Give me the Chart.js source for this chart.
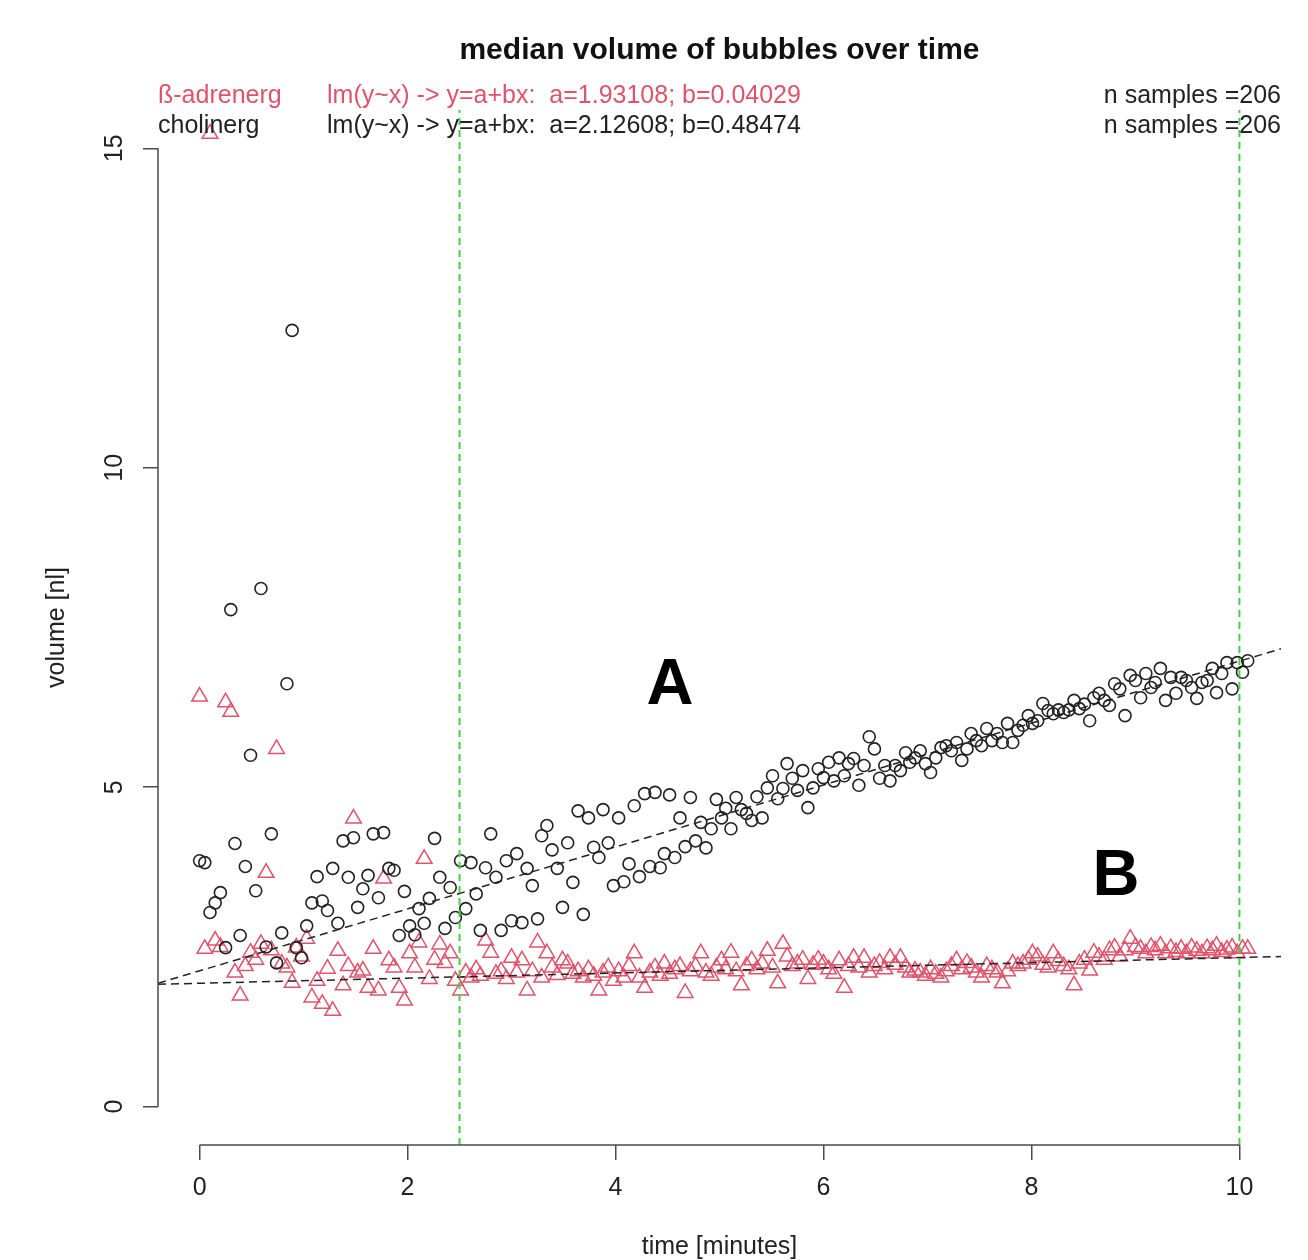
<!DOCTYPE html>
<html>
<head>
<meta charset="utf-8">
<title>median volume of bubbles over time</title>
<script src="https://cdn.jsdelivr.net/npm/chart.js@4.4.1/dist/chart.umd.min.js"></script>
<style>
  html, body { margin: 0; padding: 0; background: #ffffff; }
  #wrap { width: 1308px; height: 1260px; }
</style>
</head>
<body>
<div id="wrap"><canvas id="chart" width="1308" height="1260"></canvas></div>
<script>
// sample times (minutes)
const timeMin = [
  0.00, 0.05, 0.10, 0.15, 0.20, 0.25, 0.30, 0.34, 0.39, 0.44,
  0.49, 0.54, 0.59, 0.64, 0.69, 0.74, 0.79, 0.84, 0.89, 0.93,
  0.98, 1.03, 1.08, 1.13, 1.18, 1.23, 1.28, 1.33, 1.38, 1.43,
  1.48, 1.52, 1.57, 1.62, 1.67, 1.72, 1.77, 1.82, 1.87, 1.92,
  1.97, 2.02, 2.07, 2.11, 2.16, 2.21, 2.26, 2.31, 2.36, 2.41,
  2.46, 2.51, 2.56, 2.61, 2.66, 2.70, 2.75, 2.80, 2.85, 2.90,
  2.95, 3.00, 3.05, 3.10, 3.15, 3.20, 3.25, 3.29, 3.34, 3.39,
  3.44, 3.49, 3.54, 3.59, 3.64, 3.69, 3.74, 3.79, 3.84, 3.88,
  3.93, 3.98, 4.03, 4.08, 4.13, 4.18, 4.23, 4.28, 4.33, 4.38,
  4.43, 4.47, 4.52, 4.57, 4.62, 4.67, 4.72, 4.77, 4.82, 4.87,
  4.92, 4.97, 5.02, 5.06, 5.11, 5.16, 5.21, 5.26, 5.31, 5.36,
  5.41, 5.46, 5.51, 5.56, 5.61, 5.65, 5.70, 5.75, 5.80, 5.85,
  5.90, 5.95, 6.00, 6.05, 6.10, 6.15, 6.20, 6.24, 6.29, 6.34,
  6.39, 6.44, 6.49, 6.54, 6.59, 6.64, 6.69, 6.74, 6.79, 6.83,
  6.88, 6.93, 6.98, 7.03, 7.08, 7.13, 7.18, 7.23, 7.28, 7.33,
  7.38, 7.42, 7.47, 7.52, 7.57, 7.62, 7.67, 7.72, 7.77, 7.82,
  7.87, 7.92, 7.97, 8.01, 8.06, 8.11, 8.16, 8.21, 8.26, 8.31,
  8.36, 8.41, 8.46, 8.51, 8.56, 8.60, 8.65, 8.70, 8.75, 8.80,
  8.85, 8.90, 8.95, 9.00, 9.05, 9.10, 9.15, 9.19, 9.24, 9.29,
  9.34, 9.39, 9.44, 9.49, 9.54, 9.59, 9.64, 9.69, 9.74, 9.78,
  9.83, 9.88, 9.93, 9.98, 10.03, 10.08
];

// median bubble volume [nl], cholinergic stimulation
const cholinerg = [
  3.85, 3.82, 3.04, 3.19, 3.35, 2.49, 7.78, 4.12, 2.68, 3.76,
  5.50, 3.38, 8.11, 2.50, 4.27, 2.25, 2.72, 6.62, 12.15, 2.49,
  2.33, 2.83, 3.19, 3.60, 3.22, 3.07, 3.73, 2.87, 4.16, 3.59,
  4.21, 3.12, 3.41, 3.62, 4.27, 3.27, 4.29, 3.73, 3.70, 2.68,
  3.37, 2.83, 2.69, 3.10, 2.87, 3.26, 4.20, 3.59, 2.79, 3.43,
  2.96, 3.85, 3.10, 3.82, 3.33, 2.76, 3.74, 4.27, 3.59, 2.76,
  3.85, 2.91, 3.96, 2.88, 3.73, 3.46, 2.94, 4.24, 4.40, 4.02,
  3.73, 3.12, 4.13, 3.51, 4.63, 3.01, 4.52, 4.06, 3.90, 4.65,
  4.13, 3.46, 4.52, 3.52, 3.80, 4.71, 3.60, 4.90, 3.76, 4.92,
  3.74, 3.96, 4.88, 3.90, 4.52, 4.07, 4.84, 4.16, 4.45, 4.05,
  4.35, 4.81, 4.52, 4.67, 4.35, 4.84, 4.65, 4.59, 4.48, 4.85,
  4.52, 4.99, 5.18, 4.82, 4.98, 5.37, 5.14, 4.95, 5.26, 4.68,
  4.99, 5.29, 5.15, 5.39, 5.10, 5.46, 5.18, 5.37, 5.45, 5.03,
  5.34, 5.79, 5.60, 5.14, 5.34, 5.10, 5.34, 5.26, 5.54, 5.39,
  5.46, 5.57, 5.37, 5.23, 5.46, 5.62, 5.65, 5.57, 5.70, 5.42,
  5.60, 5.84, 5.73, 5.65, 5.92, 5.73, 5.84, 5.70, 6.00, 5.70,
  5.89, 5.97, 6.12, 6.00, 6.04, 6.31, 6.20, 6.15, 6.21, 6.17,
  6.21, 6.36, 6.23, 6.30, 6.04, 6.40, 6.47, 6.36, 6.28, 6.62,
  6.54, 6.12, 6.75, 6.67, 6.40, 6.78, 6.56, 6.64, 6.86, 6.36,
  6.72, 6.47, 6.72, 6.67, 6.56, 6.39, 6.64, 6.67, 6.86, 6.48,
  6.78, 6.95, 6.54, 6.95, 6.80, 6.98
];

// median bubble volume [nl], beta-adrenergic stimulation
const adrenerg = [
  6.42, 2.47, 15.23, 2.60, 2.50, 6.33, 6.18, 2.10, 1.74, 2.20,
  2.41, 2.30, 2.55, 3.66, 2.45, 5.60, 2.24, 2.18, 1.94, 2.49,
  2.35, 2.63, 1.71, 1.97, 1.61, 2.16, 1.50, 2.44, 1.90, 2.20,
  4.51, 2.10, 2.13, 1.86, 2.47, 1.82, 3.57, 2.29, 2.18, 1.86,
  1.66, 2.40, 2.18, 2.57, 3.88, 2.00, 2.30, 2.54, 2.25, 2.40,
  1.97, 1.82, 2.10, 2.02, 2.15, 2.05, 2.60, 2.41, 2.08, 2.12,
  2.00, 2.33, 2.10, 2.29, 1.82, 2.12, 2.57, 2.02, 2.40, 2.18,
  2.06, 2.29, 2.24, 2.08, 2.12, 2.02, 2.15, 2.05, 1.82, 2.10,
  2.18, 1.97, 2.12, 2.02, 2.20, 2.40, 2.02, 1.86, 2.10, 2.18,
  2.05, 2.24, 2.08, 2.15, 2.20, 1.78, 2.12, 2.20, 2.40, 2.10,
  2.05, 2.18, 2.29, 2.15, 2.41, 2.12, 1.90, 2.20, 2.29, 2.15,
  2.24, 2.44, 2.18, 1.93, 2.55, 2.35, 2.20, 2.24, 2.30, 2.00,
  2.22, 2.30, 2.24, 2.15, 2.08, 2.29, 1.86, 2.20, 2.33, 2.18,
  2.33, 2.10, 2.20, 2.25, 2.15, 2.33, 2.22, 2.33, 2.18, 2.10,
  2.13, 2.10, 2.05, 2.15, 2.08, 2.02, 2.12, 2.20, 2.29, 2.15,
  2.25, 2.18, 2.10, 2.02, 2.20, 2.15, 2.10, 1.93, 2.12, 2.24,
  2.20, 2.24, 2.30, 2.40, 2.35, 2.22, 2.18, 2.40, 2.28, 2.20,
  2.15, 1.90, 2.24, 2.30, 2.13, 2.41, 2.35, 2.30, 2.45, 2.49,
  2.35, 2.45, 2.63, 2.50, 2.47, 2.40, 2.50, 2.45, 2.52, 2.40,
  2.48, 2.42, 2.47, 2.40, 2.49, 2.44, 2.40, 2.48, 2.45, 2.52,
  2.42, 2.46, 2.49, 2.40, 2.47, 2.47
];

// linear fits y = a + b*x
const fitAdrenerg = { a: 1.93108, b: 0.04029 };
const fitCholinerg = { a: 2.12608, b: 0.48474 };

// axis ticks, limits and reference times
const xTicks = [0, 2, 4, 6, 8, 10];
const yTicks = [0, 5, 10, 15];
const xLimits = [-0.4, 10.4];
const yLimits = [-0.6, 15.6];
const markerTimes = [2.5, 10];
const nSamples = [206, 206];

const groupNames = ['ß-adrenerg', 'cholinerg'];
const fitNotes = [
  'lm(y~x) -> y=a+bx:  a=' + fitAdrenerg.a.toFixed(5) + '; b=' + fitAdrenerg.b.toFixed(5),
  'lm(y~x) -> y=a+bx:  a=' + fitCholinerg.a.toFixed(5) + '; b=' + fitCholinerg.b.toFixed(5)
];
const titleText = 'median volume of bubbles over time';

const RED = '#DF536B';
const INK = '#222222';
const AXIS = '#4a4a4a';
const GREEN = '#45d145';
const FONT = '"Liberation Sans", Arial, Helvetica, sans-serif';

const toPoints = (xs, ys) => xs.map((x, i) => ({ x: x, y: ys[i] }));
const fitLine = f => xLimits.map(x => ({ x: x, y: f.a + f.b * x }));
const vLine = t => yLimits.map(y => ({ x: t, y: y }));

// R-style axis lines running from the first to the last tick
const axisLines = {
  id: 'axisLines',
  afterDraw(chart) {
    const { ctx, chartArea, scales } = chart;
    const xs = scales.x, ys = scales.y;
    ctx.save();
    ctx.strokeStyle = AXIS;
    ctx.lineWidth = 1.5;
    ctx.beginPath();
    ctx.moveTo(xs.getPixelForValue(xTicks[0]), chartArea.bottom);
    ctx.lineTo(xs.getPixelForValue(xTicks[xTicks.length - 1]), chartArea.bottom);
    ctx.moveTo(chartArea.left, ys.getPixelForValue(yTicks[0]));
    ctx.lineTo(chartArea.left, ys.getPixelForValue(yTicks[yTicks.length - 1]));
    ctx.stroke();
    ctx.restore();
  }
};

// title, group legend, fit notes and panel letters
const headerText = {
  id: 'headerText',
  afterDraw(chart) {
    const { ctx, chartArea } = chart;
    const cx = (chartArea.left + chartArea.right) / 2;
    ctx.save();
    ctx.textBaseline = 'middle';

    ctx.fillStyle = '#111111';
    ctx.font = 'bold 30px ' + FONT;
    ctx.textAlign = 'center';
    ctx.fillText(titleText, cx, 51);

    const rows = [96, 126];
    const colors = [RED, INK];
    ctx.font = '25px ' + FONT;
    for (let i = 0; i < 2; i++) {
      ctx.fillStyle = colors[i];
      ctx.textAlign = 'left';
      ctx.fillText(groupNames[i], chartArea.left, rows[i]);
      ctx.fillText(fitNotes[i], 327, rows[i]);
      ctx.fillStyle = INK;
      ctx.textAlign = 'right';
      ctx.fillText('n samples =' + nSamples[i], chartArea.right, rows[i]);
    }

    ctx.fillStyle = '#000000';
    ctx.font = 'bold 65px ' + FONT;
    ctx.textAlign = 'center';
    ctx.fillText('A', 670, 686);
    ctx.fillText('B', 1116, 877);
    ctx.restore();
  }
};

new Chart(document.getElementById('chart'), {
  type: 'scatter',
  data: {
    datasets: [
      {
        label: 'marker 1', data: vLine(markerTimes[0]), showLine: true,
        borderColor: GREEN, borderWidth: 2, borderDash: [7, 5], pointRadius: 0, order: 0
      },
      {
        label: 'marker 2', data: vLine(markerTimes[1]), showLine: true,
        borderColor: GREEN, borderWidth: 2, borderDash: [7, 5], pointRadius: 0, order: 0
      },
      {
        label: 'fit cholinerg', data: fitLine(fitCholinerg), showLine: true,
        borderColor: INK, borderWidth: 1.5, borderDash: [8, 5], pointRadius: 0, order: 1
      },
      {
        label: 'fit adrenerg', data: fitLine(fitAdrenerg), showLine: true,
        borderColor: INK, borderWidth: 1.5, borderDash: [8, 5], pointRadius: 0, order: 1
      },
      {
        label: groupNames[1], data: toPoints(timeMin, cholinerg),
        pointStyle: 'circle', pointRadius: 6, pointBorderWidth: 1.6,
        pointBorderColor: INK, pointBackgroundColor: 'rgba(0,0,0,0)', order: 2
      },
      {
        label: groupNames[0], data: toPoints(timeMin, adrenerg),
        pointStyle: 'triangle', pointRadius: 9, pointBorderWidth: 1.5,
        pointBorderColor: RED, pointBackgroundColor: 'rgba(0,0,0,0)', order: 3
      }
    ]
  },
  options: {
    responsive: false,
    animation: false,
    devicePixelRatio: 1,
    layout: { padding: { left: 0, right: 27, top: 110, bottom: 0 } },
    plugins: { legend: { display: false }, tooltip: { enabled: false }, title: { display: false } },
    scales: {
      x: {
        type: 'linear', min: xLimits[0], max: xLimits[1],
        afterBuildTicks: s => { s.ticks = xTicks.map(v => ({ value: v })); },
        afterFit: s => { s.height = 115; },
        border: { display: false },
        grid: { drawOnChartArea: false, drawTicks: true, tickLength: 15, color: AXIS, lineWidth: 1.5 },
        ticks: { color: INK, font: { family: FONT, size: 25 }, padding: 13, autoSkip: false, maxRotation: 0 },
        title: { display: true, text: 'time [minutes]', color: INK, font: { family: FONT, size: 25, lineHeight: 1 }, padding: 0 }
      },
      y: {
        type: 'linear', min: yLimits[0], max: yLimits[1],
        afterBuildTicks: s => { s.ticks = yTicks.map(v => ({ value: v })); },
        afterFit: s => { s.width = 158; },
        border: { display: false },
        grid: { drawOnChartArea: false, drawTicks: true, tickLength: 15, color: AXIS, lineWidth: 1.5 },
        ticks: { color: INK, font: { family: FONT, size: 25 }, padding: 14, minRotation: 90, maxRotation: 90, crossAlign: 'center', autoSkip: false },
        title: { display: true, text: 'volume [nl]', color: INK, font: { family: FONT, size: 25, lineHeight: 1 }, padding: { top: 45, bottom: 0 } }
      }
    }
  },
  plugins: [axisLines, headerText]
});
</script>
</body>
</html>
